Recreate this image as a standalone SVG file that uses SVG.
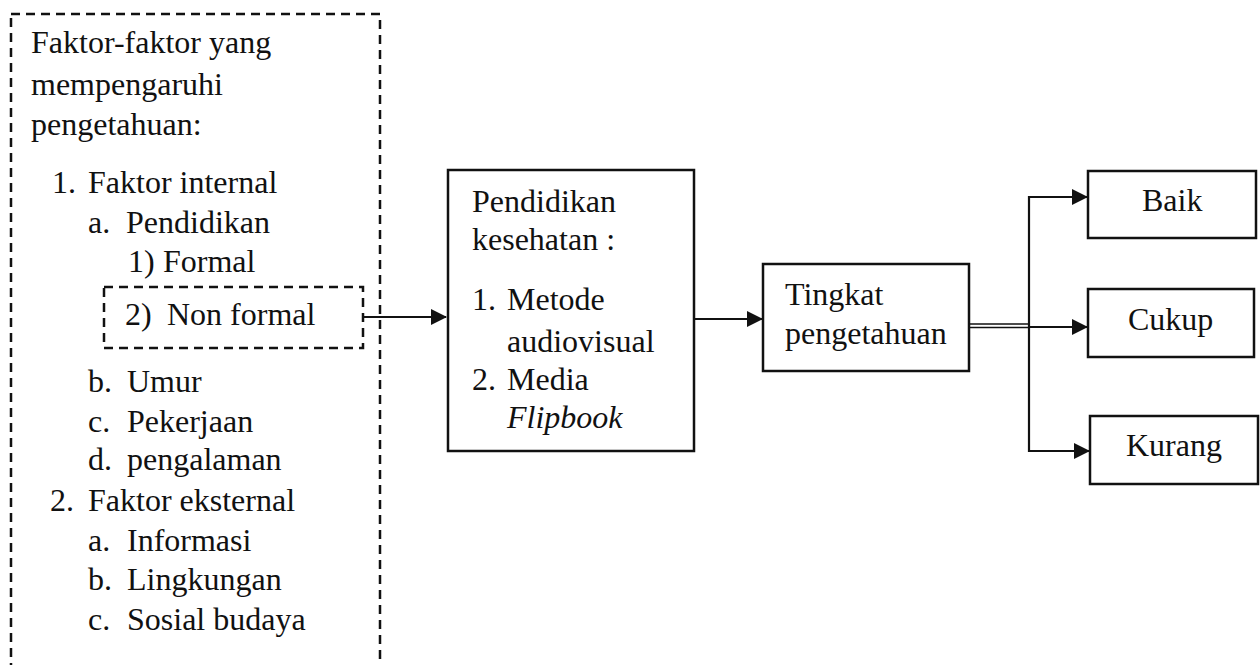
<svg xmlns="http://www.w3.org/2000/svg" width="1260" height="665" viewBox="0 0 1260 665">
<style>
text{font-family:"Liberation Serif","Times New Roman",serif;font-size:32px;fill:#111}
.box{fill:#fff;stroke:#111;stroke-width:2.5}
.dash{fill:none;stroke:#111;stroke-width:2.5;stroke-dasharray:9 6}
.ln{fill:none;stroke:#111;stroke-width:2.2}
.thin{fill:none;stroke:#111;stroke-width:1.4}
.it{font-style:italic}
</style>
<defs>
<marker id="ah" markerUnits="userSpaceOnUse" markerWidth="16" markerHeight="16" refX="15" refY="8" orient="auto">
<path d="M0,0 L16,8 L0,16 z" fill="#111"/>
</marker>
</defs>
<rect width="1260" height="665" fill="#fff"/>
<g id="factors">
<rect class="dash" x="11" y="14" width="369" height="680"/>
<text x="31" y="53">Faktor-faktor yang</text>
<text x="31" y="95">mempengaruhi</text>
<text x="31" y="135">pengetahuan:</text>
<text x="52" y="193">1.</text><text x="88" y="193">Faktor internal</text>
<text x="88" y="233">a.</text><text x="126" y="233">Pendidikan</text>
<text x="128" y="272">1)</text><text x="163" y="272">Formal</text>
<text x="88" y="392">b.</text><text x="127" y="392">Umur</text>
<text x="88" y="432">c.</text><text x="127" y="432">Pekerjaan</text>
<text x="88" y="470">d.</text><text x="127" y="470">pengalaman</text>
<text x="50" y="511">2.</text><text x="88" y="511">Faktor eksternal</text>
<text x="88" y="551">a.</text><text x="127" y="551">Informasi</text>
<text x="88" y="590">b.</text><text x="127" y="590">Lingkungan</text>
<text x="88" y="630">c.</text><text x="127" y="630">Sosial budaya</text>
</g>
<g id="nonformal">
<rect class="dash" x="104" y="287" width="259" height="61"/>
<text x="125" y="325">2)</text><text x="167" y="325">Non formal</text>
</g>
<g id="pendidikan">
<rect class="box" x="448" y="170" width="246" height="281"/>
<text x="472" y="212">Pendidikan</text>
<text x="472" y="250">kesehatan :</text>
<text x="472" y="310">1.</text><text x="507" y="310">Metode</text>
<text x="507" y="352">audiovisual</text>
<text x="472" y="390">2.</text><text x="507" y="390">Media</text>
<text x="507" y="428" class="it">Flipbook</text>
</g>
<g id="tingkat">
<rect class="box" x="763" y="264" width="206" height="107"/>
<text x="785" y="305">Tingkat</text>
<text x="785" y="344">pengetahuan</text>
</g>
<g id="baik">
<rect class="box" x="1088" y="171" width="168" height="67"/>
<text x="1142" y="211">Baik</text>
</g>
<g id="cukup">
<rect class="box" x="1088" y="289" width="166" height="68"/>
<text x="1128" y="330">Cukup</text>
</g>
<g id="kurang">
<rect class="box" x="1090" y="416" width="168" height="68"/>
<text x="1126" y="456">Kurang</text>
</g>
<g id="connectors">
<path class="ln" d="M363,317 H446" marker-end="url(#ah)"/>
<path class="ln" d="M694,319 H762" marker-end="url(#ah)"/>
<path class="thin" d="M969,324 H1029"/>
<path class="thin" d="M969,327.5 H1029"/>
<path class="ln" d="M1029,327 H1087" marker-end="url(#ah)"/>
<path class="ln" d="M1087,197 H1029 V451 H1089" marker-end="url(#ah)"/>
<path class="ln" d="M1029,197 H1087" marker-end="url(#ah)"/>
</g>
</svg>
